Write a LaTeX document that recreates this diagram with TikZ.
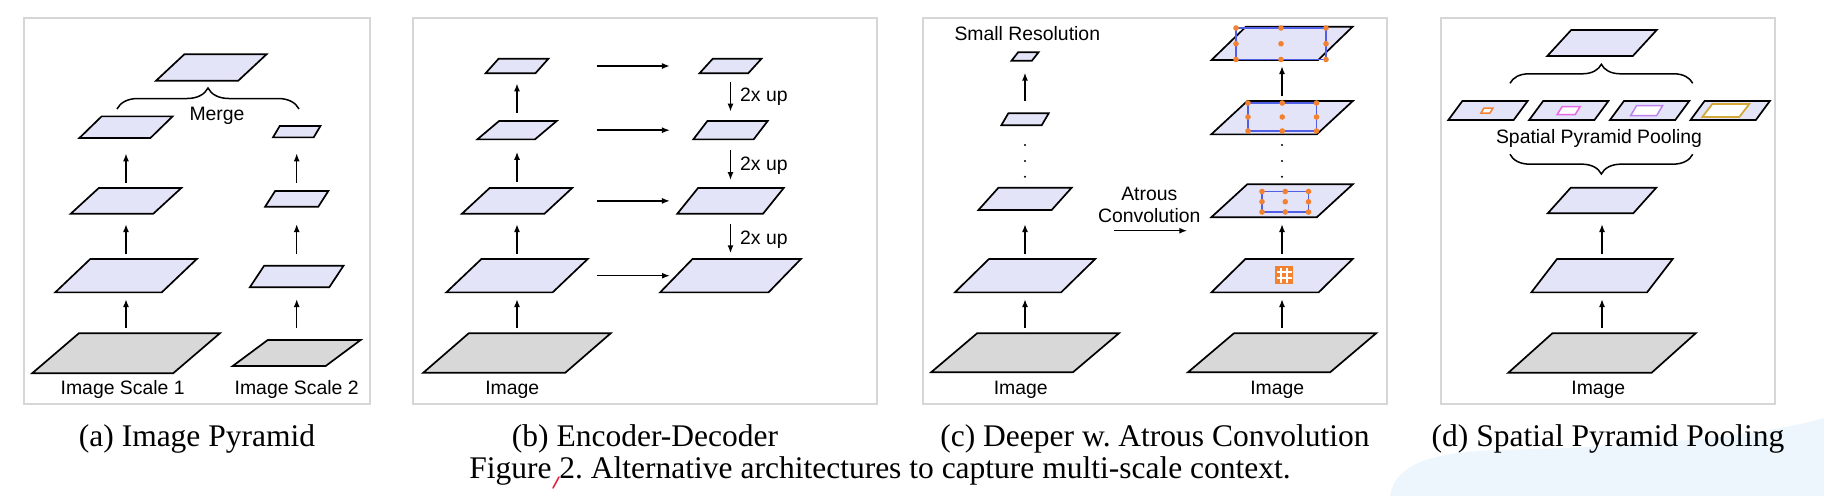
\documentclass[tikz,border=0pt]{standalone}
\usepackage{fontspec}
\setmainfont{Liberation Serif}
\setsansfont{Liberation Sans}
\usetikzlibrary{arrows.meta,decorations.pathreplacing,calc}
\frenchspacing

\definecolor{layfill}{RGB}{228,228,248}
\definecolor{imgfill}{RGB}{216,216,216}
\definecolor{boxgray}{RGB}{214,214,214}
\definecolor{dotorange}{RGB}{242,130,50}
\definecolor{rectblue}{RGB}{80,95,230}
\definecolor{sppmag}{RGB}{232,104,232}
\definecolor{sppvio}{RGB}{190,130,240}
\definecolor{sppgold}{RGB}{212,168,56}
\definecolor{blobblue}{RGB}{236,246,252}
\definecolor{penred}{RGB}{225,40,70}

\tikzset{
  slot/.style={shape=rectangle, inner sep=0pt, outer sep=0pt, draw=none},
  lay/.style={draw=black, line width=1.7pt, fill=layfill},
  img/.style={draw=black, line width=1.7pt, fill=imgfill},
  arr/.style={-{Latex[length=8pt,width=6pt]}, line width=1.5pt},
  panelbox/.style={draw=boxgray, line width=1.5pt, fill=white},
  lbl/.style={font=\sffamily\fontsize{19.4}{23}\selectfont, inner sep=0pt, anchor=base},
  captxt/.style={font=\frenchspacing\fontsize{31.5}{36}\selectfont, inner sep=0pt, anchor=base},
  brc/.style={decorate, line width=1.5pt},
  vdot/.style={fill=black, draw=none},
  odot/.style={fill=dotorange, draw=none},
  arect/.style={draw=rectblue, line width=1.2pt},
  pin1/.style={draw=dotorange, line width=1.5pt, fill=white},
  pin2/.style={draw=sppmag, line width=1.5pt, fill=white},
  pin3/.style={draw=sppvio, line width=1.5pt, fill=white},
  pin4/.style={draw=sppgold, line width=1.8pt, fill=white},
}

% parallelogram: style, name, cx, cy, width, height, skew
\newcommand\plg[7]{%
  \node[slot, minimum width=#5pt, minimum height=#6pt] (#2) at (#3,#4) {};
  \draw[#1] ([xshift=#7pt/2]#2.north west) -- ([xshift=#7pt/2]#2.north east)
    -- ([xshift=-#7pt/2]#2.south east) -- ([xshift=-#7pt/2]#2.south west) -- cycle;}

% atrous sampling rectangle with 3x3 dots
\newcommand\atrs[4]{%
  \draw[arect] (#1,#2) rectangle (#3,#4);
  \pgfmathsetmacro\atmx{(#1+#3)/2}\pgfmathsetmacro\atmy{(#2+#4)/2}
  \foreach \px in {#1,\atmx,#3}{\foreach \py in {#2,\atmy,#4}{\fill[odot] (\px,\py) circle (2.8pt);}}}

\begin{document}
\begin{tikzpicture}[x=1pt,y=-1pt]
\useasboundingbox (0,0) rectangle (1824,496);
\fill[white] (0,0) rectangle (1824,496);
\fill[blobblue] (1390,496) .. controls (1395,465) and (1430,452) .. (1500,450)
   .. controls (1600,448) and (1750,440) .. (1824,418) -- (1824,496) -- cycle;

% panel frames
\draw[panelbox] (24,18) rectangle (370,404);
\draw[panelbox] (413,18) rectangle (877,404);
\draw[panelbox] (923,18) rectangle (1387,404);
\draw[panelbox] (1441,18) rectangle (1775,404);

% ---------------- (a) Image Pyramid
\plg{lay}{aM}{211.3}{67.5}{82.2}{26.4}{28.3}
\plg{lay}{a4}{126}{127.2}{71}{21.7}{22.3}
\plg{lay}{a3}{126}{200.9}{82.5}{25.7}{28}
\plg{lay}{a2}{126}{275.7}{106.5}{33.3}{35}
\plg{img}{a1}{126}{353.3}{141}{40}{46.7}
\plg{lay}{b4}{296.7}{131.7}{40.7}{11.3}{6.7}
\plg{lay}{b3}{296.7}{198.9}{53.2}{15.7}{10}
\plg{lay}{b2}{296.7}{276.5}{79.4}{21.6}{14.3}
\plg{img}{b1}{296.7}{353}{92.9}{26}{35}
\draw[arr, shorten <=5.3pt, shorten >=6.7pt] (a1.north) -- (a2.south);
\draw[arr, shorten <=5pt, shorten >=10.3pt] (a2.north) -- (a3.south);
\draw[arr, shorten <=5.3pt, shorten >=15.3pt] (a3.north) -- (a4.south);
\draw[arr, shorten <=12pt, shorten >=11.7pt] (b1.north) -- (b2.south);
\draw[arr, shorten <=11.7pt, shorten >=17.3pt] (b2.north) -- (b3.south);
\draw[arr, shorten <=8.3pt, shorten >=16pt] (b3.north) -- (b4.south);
\coordinate (mgL) at (117,109);
\coordinate (mgR) at (299,109);
\draw[brc, decoration={brace, amplitude=21pt}] (mgL) -- (mgR);
\node[lbl] (mg) at (217,120) {Merge};
\node[lbl] (is1) at (122.7,394.3) {Image Scale 1};
\node[lbl] (is2) at (296.7,394.3) {Image Scale 2};

% ---------------- (b) Encoder-Decoder
\plg{img}{e1}{517}{353}{142}{39.4}{45.4}
\plg{lay}{e2}{517}{275.7}{106.3}{33.3}{35}
\plg{lay}{e3}{517}{200.9}{82.5}{25.7}{27.7}
\plg{lay}{e4}{517}{130.2}{57.6}{18.3}{21.7}
\plg{lay}{e5}{517}{66}{49.8}{14.6}{13}
\plg{lay}{d1}{730.5}{275.7}{108.4}{33.3}{32.3}
\plg{lay}{d2}{730.5}{200.9}{85.7}{25.7}{20.7}
\plg{lay}{d3}{730.5}{130.2}{60.3}{18.3}{14}
\plg{lay}{d4}{730.5}{66}{48.7}{14.6}{13.3}
\draw[arr, shorten <=5.3pt, shorten >=6.7pt] (e1.north) -- (e2.south);
\draw[arr, shorten <=5pt, shorten >=10.3pt] (e2.north) -- (e3.south);
\draw[arr, shorten <=6.4pt, shorten >=12.4pt] (e3.north) -- (e4.south);
\draw[arr, shorten <=8.4pt, shorten >=10pt] (e4.north) -- (e5.south);
\draw[arr, shorten <=54.8pt, shorten >=36.2pt] (e5.east) -- (d4.west);
\draw[arr, shorten <=50.9pt, shorten >=30.4pt] (e4.east) -- (d3.west);
\draw[arr, shorten <=38.5pt, shorten >=17.7pt] (e3.east) -- (d2.west);
\draw[arr, shorten <=26.6pt, shorten >=6.3pt] (e2.east) -- (d1.west);
\draw[arr, shorten <=8.4pt, shorten >=9.4pt] (d4.south) -- (d3.north);
\draw[arr, shorten <=10.7pt, shorten >=8pt] (d3.south) -- (d2.north);
\draw[arr, shorten <=10.3pt, shorten >=5.8pt] (d2.south) -- (d1.north);
\node[lbl, anchor=base west] (up1) at (740,101.7) {2x up};
\node[lbl, anchor=base west] (up2) at (740,170) {2x up};
\node[lbl, anchor=base west] (up3) at (740,244.3) {2x up};
\node[lbl] (imb) at (512.3,394.3) {Image};

% ---------------- (c) Deeper w. Atrous Convolution
\plg{img}{f1}{1025}{352.8}{141.8}{39}{46}
\plg{lay}{f2}{1025}{275.7}{106.2}{33.3}{34}
\plg{lay}{f3}{1025}{198.9}{73.2}{22.3}{20}
\plg{lay}{f4}{1025}{119.3}{40.4}{12}{7}
\plg{lay}{f5}{1025}{56.5}{20.4}{8.4}{6.6}
\draw[arr, shorten <=5.3pt, shorten >=6.7pt] (f1.north) -- (f2.south);
\draw[arr, shorten <=5pt, shorten >=14pt] (f2.north) -- (f3.south);
\draw[arr, shorten <=12.3pt, shorten >=12pt] (f4.north) -- (f5.south);
\foreach \yy in {145,161,176.7} \fill[vdot] (1025,\yy) circle (1.1pt);
\node[lbl] (smr) at (1027.3,40) {Small Resolution};

\plg{img}{g1}{1282}{352.8}{142.2}{39}{46}
\plg{lay}{g2}{1282}{275.7}{107.2}{33.3}{33.9}
\plg{lay}{g3}{1282}{200.8}{105.5}{33}{36}
\plg{lay}{g4}{1282}{117.7}{105.5}{33.3}{36}
\plg{lay}{g5}{1282}{43.4}{106.7}{33.3}{34.4}
\draw[arr, shorten <=5.3pt, shorten >=6.7pt] (g1.north) -- (g2.south);
\draw[arr, shorten <=5pt, shorten >=6.7pt] (g2.north) -- (g3.south);
\draw[arr, shorten <=5pt, shorten >=6pt] (g4.north) -- (g5.south);
\foreach \yy in {145,161,176.7} \fill[vdot] (1282,\yy) circle (1.1pt);
\atrs{1236}{28}{1326}{59.5}
\atrs{1248}{103}{1316.5}{131}
\atrs{1262}{191.5}{1308.5}{212}
\fill[dotorange] (1275,266) rectangle (1293,284);
\draw[white, line width=1.3pt] (1281,267.5) -- (1281,282.5) (1287,267.5) -- (1287,282.5)
   (1276.5,272) -- (1291.5,272) (1276.5,278) -- (1291.5,278);
\node[lbl] (atr1) at (1149.3,200) {Atrous};
\node[lbl] (atr2) at (1149.3,222.7) {Convolution};
\coordinate (acs) at (1114.3,230.7);
\coordinate (ace) at (1187.3,230.7);
\draw[arr] (acs) -- (ace);
\node[lbl] (imc1) at (1020.7,394.3) {Image};
\node[lbl] (imc2) at (1277.3,394.3) {Image};

% ---------------- (d) Spatial Pyramid Pooling
\plg{lay}{hT}{1602}{43}{85.5}{26}{23.9}
\plg{lay}{p1}{1488}{110.5}{65.3}{19}{14}
\plg{lay}{p2}{1568.8}{110.5}{65.3}{19}{14}
\plg{lay}{p3}{1649.6}{110.5}{65.3}{19}{14}
\plg{lay}{p4}{1730.2}{110.5}{65.3}{19}{14}
\plg{pin1}{q1}{1487}{110.5}{9}{5}{3}
\plg{pin2}{q2}{1568.7}{110.5}{18}{8}{5}
\plg{pin3}{q3}{1646.7}{110.5}{26}{10}{6}
\plg{pin4}{q4}{1725.8}{110.5}{37}{13}{10}
\coordinate (ubL) at (1510,83.3);
\coordinate (ubR) at (1692.7,83.3);
\draw[brc, decoration={brace, amplitude=19pt}] (ubL) -- (ubR);
\node[lbl] (spp) at (1599,143.3) {Spatial Pyramid Pooling};
\coordinate (lbL) at (1510,154.3);
\coordinate (lbR) at (1692.7,154.3);
\draw[brc, decoration={brace, amplitude=19.7pt}] (lbR) -- (lbL);
\plg{lay}{hM}{1602}{200.5}{85.5}{25.6}{23}
\plg{lay}{h2}{1602}{275.7}{115.7}{33.3}{25.6}
\plg{img}{h1}{1602}{353}{143.3}{39.4}{44}
\draw[arr, shorten <=5.3pt, shorten >=6.7pt] (h1.north) -- (h2.south);
\draw[arr, shorten <=4.8pt, shorten >=10.7pt] (h2.north) -- (hM.south);
\node[lbl] (imd) at (1598.3,394.3) {Image};

% ---------------- captions
\node[captxt] (ca) at (197,446.7) {(a) Image Pyramid};
\node[captxt] (cb) at (645,446.7) {(b) Encoder-Decoder};
\node[captxt] (cc) at (1155,446.7) {(c) Deeper w. Atrous Convolution};
\node[captxt] (cd) at (1608,446.7) {(d) Spatial Pyramid Pooling};
\node[captxt] (fig) at (880,478) {Figure 2. Alternative architectures to capture multi-scale context.};
\coordinate (pm1) at (553,488);
\coordinate (pm2) at (559,477);
\draw[penred, line width=1.6pt, line cap=round] (pm1) -- (pm2);
\end{tikzpicture}
\end{document}
